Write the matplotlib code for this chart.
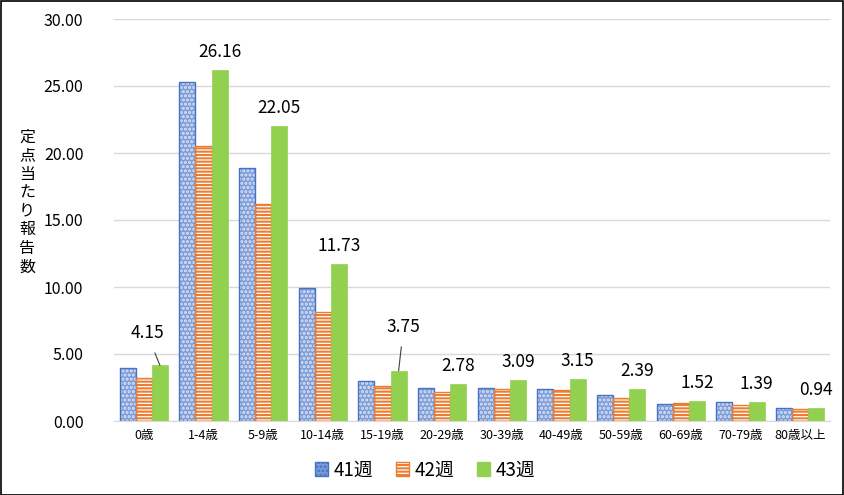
import matplotlib
matplotlib.use("Agg")
import matplotlib.pyplot as plt
import numpy as np
from matplotlib.patches import Rectangle, Patch

plt.rcParams['font.family'] = ['Noto Sans CJK JP', 'DejaVu Sans']
plt.rcParams['hatch.linewidth'] = 1.5

categories = ['0歳', '1-4歳', '5-9歳', '10-14歳', '15-19歳', '20-29歳', '30-39歳',
              '40-49歳', '50-59歳', '60-69歳', '70-79歳', '80歳以上']
w41 = [3.93, 25.32, 18.88, 9.93, 3.01, 2.46, 2.44, 2.36, 1.92, 1.24, 1.39, 0.95]
w42 = [3.23, 20.52, 16.17, 8.13, 2.63, 2.19, 2.36, 2.33, 1.72, 1.34, 1.19, 0.87]
w43 = [4.15, 26.16, 22.05, 11.73, 3.75, 2.78, 3.09, 3.15, 2.39, 1.52, 1.39, 0.94]
series_names = ['41週', '42週', '43週']
yticks = [0, 5, 10, 15, 20, 25, 30]

fig = plt.figure(figsize=(8.45, 4.95), dpi=100)
ax = fig.add_axes([114/845, 74/495, (830-114)/845, (421-19)/495])

x = np.arange(len(categories))
bw = 0.27

# 41週: blue dotted
ax.bar(x - bw, w41, bw, color='#7E9CD8', hatch='....', edgecolor='#DCE6F6', linewidth=0, zorder=2)
ax.bar(x - bw, w41, bw, facecolor='none', edgecolor='#4472C4', linewidth=1.0, zorder=3)
# 42週: orange horizontal stripes
ax.bar(x, w42, bw, color='white', hatch='-----', edgecolor='#ED7D31', linewidth=0, zorder=2)
ax.bar(x, w42, bw, facecolor='none', edgecolor='#ED7D31', linewidth=1.0, zorder=3)
# 43週: solid green
ax.bar(x + bw, w43, bw, color='#92D050', edgecolor='#92D050', linewidth=0.5, zorder=3)

ax.set_xlim(-0.5, len(categories) - 0.5)
ax.set_ylim(0, 30)
ax.set_yticks(yticks)
ax.set_yticklabels([f'{v:.2f}' for v in yticks], fontsize=11.5)
ax.set_xticks(x)
ax.set_xticklabels(categories, fontsize=9)
ax.tick_params(axis='both', length=0)
ax.tick_params(axis='y', pad=22)
ax.tick_params(axis='x', pad=6)
ax.grid(axis='y', color='#D9D9D9', linewidth=1.0, zorder=0)
ax.set_axisbelow(True)
for s in ['top', 'right', 'left']:
    ax.spines[s].set_visible(False)
ax.spines['bottom'].set_color('#D9D9D9')

# data labels for 43週
offsets = {0: (-13, 32), 4: (5, 44)}
for i, v in enumerate(w43):
    xi = x[i] + bw
    if i in offsets:
        dx, dy = offsets[i]
        ax.annotate(f'{v:.2f}', xy=(xi, v), xytext=(dx, dy), textcoords='offset pixels',
                    ha='center', va='center', fontsize=12.5,
                    arrowprops=dict(arrowstyle='-', color='#404040', lw=0.8,
                                    shrinkA=6, shrinkB=0))
    else:
        ax.annotate(f'{v:.2f}', xy=(xi, v), xytext=(0, 18), textcoords='offset pixels',
                    ha='center', va='center', fontsize=12.5)

fig.text(27/845, 1 - 202/495, '\n'.join('定点当たり報告数'), ha='center', va='center',
         fontsize=11.5, linespacing=1.12)

handles = [Patch(facecolor='#7E9CD8', edgecolor='#4472C4', hatch='....'),
           Patch(facecolor='white', edgecolor='#ED7D31', hatch='-----'),
           Patch(facecolor='#92D050', edgecolor='#92D050')]
fig.legend(handles, series_names, loc='center', bbox_to_anchor=(425/845, 1 - 470/495),
           ncol=3, frameon=False, fontsize=13.5, handlelength=0.7, handleheight=0.7,
           handletextpad=0.3, columnspacing=1.2)

fig.patches.append(Rectangle((0.001, 0.001), 0.997, 0.997, transform=fig.transFigure,
                             fill=False, edgecolor='black', linewidth=1.2))

fig.savefig('out.png', dpi=100)
